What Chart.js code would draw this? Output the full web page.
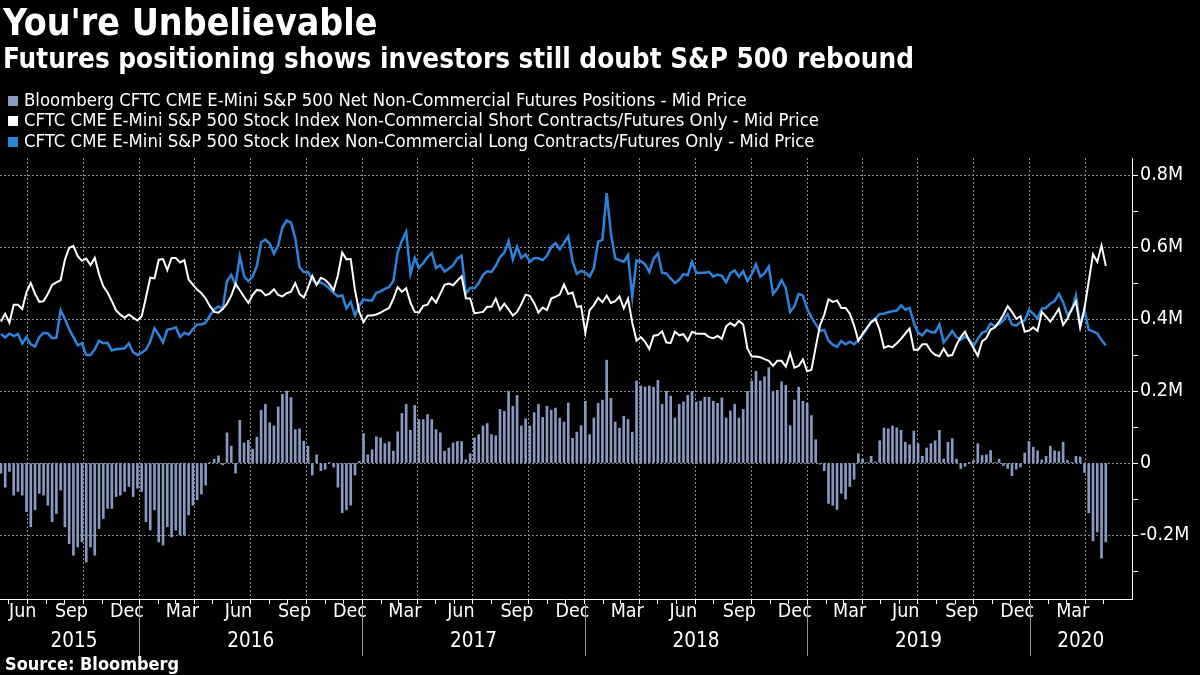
<!DOCTYPE html>
<html>
<head>
<meta charset="utf-8">
<script src="https://cdn.jsdelivr.net/npm/chart.js@4.4.1/dist/chart.umd.min.js"></script>
<style>
  html, body { margin: 0; padding: 0; background: #000; }
  body { width: 1200px; height: 675px; position: relative; overflow: hidden;
         font-family: "DejaVu Sans Condensed", "Liberation Sans Narrow", "DejaVu Sans", sans-serif; color: #fff; }
  #chart { position: absolute; left: 0; top: 0; }
  .title { position: absolute; left: 3px; top: 4px; font-size: 37.2px; line-height: 37px; font-weight: bold; }
  .subtitle { position: absolute; left: 3px; top: 45px; font-size: 27.6px; line-height: 27px; font-weight: bold; }
  .legend { position: absolute; left: 8px; top: 89.5px; font-size: 18.4px; line-height: 20.5px; }
  .legend div { white-space: nowrap; }
  .legend span.sw { display: inline-block; width: 10px; height: 10px; margin-right: 6px; vertical-align: 0px; }
  .source { position: absolute; left: 5px; top: 655px; font-size: 18px; line-height: 18px; font-weight: bold; }
</style>
</head>
<body>
<canvas id="chart" width="1200" height="675"></canvas>
<div class="title">You're Unbelievable</div>
<div class="subtitle">Futures positioning shows investors still doubt S&amp;P 500 rebound</div>
<div class="legend">
  <div><span class="sw" style="background:#8799c0"></span>Bloomberg CFTC CME E-Mini S&amp;P 500 Net Non-Commercial Futures Positions - Mid Price</div>
  <div><span class="sw" style="background:#ffffff"></span>CFTC CME E-Mini S&amp;P 500 Stock Index Non-Commercial Short Contracts/Futures Only - Mid Price</div>
  <div><span class="sw" style="background:#2b83db"></span>CFTC CME E-Mini S&amp;P 500 Stock Index Non-Commercial Long Contracts/Futures Only - Mid Price</div>
</div>
<div class="source">Source: Bloomberg</div>
<script>
// Semanas de reporte CFTC (martes), desde el 19 de mayo de 2015
const primeraSemana = "2015-05-19";

// Posiciones netas no comerciales (miles de contratos)
const netas = [
  -28, -67, -23, -89, -79, -89, -135, -177, -130, -84,
  -89, -117, -163, -140, -75, -177, -224, -256, -233, -219,
  -275, -233, -256, -182, -154, -126, -126, -93, -89, -79,
  -65, -93, -70, -79, -163, -186, -130, -219, -228, -177,
  -205, -186, -200, -200, -144, -117, -102, -86, -61, 2,
  11, 20, -5, 84, 47, -28, 119, 56, 63, 39,
  72, 147, 163, 112, 103, 156, 191, 200, 182, 93,
  95, 61, 47, -33, 23, -21, -17, 1, -11, -67,
  -138, -130, -117, -33, 5, 82, 23, 37, 73, 70,
  54, 59, 33, 87, 138, 163, 91, 160, 121, 121,
  135, 121, 93, 84, 33, 42, 56, 60, 60, 9,
  26, 70, 79, 103, 110, 79, 76, 149, 144, 200,
  158, 188, 103, 123, 103, 140, 163, 127, 158, 147,
  153, 125, 114, 167, 69, 86, 104, 172, 79, 125,
  166, 175, 286, 180, 114, 97, 130, 121, 86, 228,
  214, 211, 214, 211, 230, 163, 200, 186, 125, 163,
  170, 188, 199, 170, 172, 183, 183, 172, 166, 181,
  125, 145, 163, 125, 149, 199, 228, 255, 228, 240,
  265, 199, 202, 226, 216, 104, 175, 211, 172, 166,
  132, 65, -3, -21, -112, -117, -129, -84, -100, -65,
  -45, 26, 11, 2, 19, 3, 62, 97, 95, 103,
  98, 91, 58, 51, 89, 54, 19, 42, 54, 62,
  91, 11, 58, 68, 11, -15, -9, 2, 7, 54,
  21, 23, 35, 2, 11, -7, -15, -35, -17, -11,
  28, 60, 44, 34, 9, 19, 47, 34, 32, 58,
  7, 2, 19, 17, -26, -138, -216, -191, -264, -219
];

// Contratos cortos no comerciales (miles)
const cortos = [
  393, 415, 390, 440, 440, 428, 475, 500, 470, 448,
  450, 470, 495, 502, 508, 565, 598, 603, 575, 562,
  568, 550, 570, 525, 491, 474, 450, 424, 412, 404,
  413, 404, 396, 408, 460, 515, 513, 565, 567, 536,
  570, 570, 557, 564, 510, 496, 482, 472, 457, 436,
  420, 418, 428, 443, 465, 498, 480, 462, 445, 467,
  481, 479, 466, 471, 483, 467, 463, 472, 476, 500,
  470, 460, 488, 520, 495, 515, 509, 497, 480, 522,
  585, 566, 567, 480, 420, 392, 410, 410, 413, 418,
  425, 431, 457, 489, 476, 486, 446, 420, 418, 437,
  440, 460, 446, 471, 495, 499, 494, 507, 519, 458,
  457, 416, 418, 420, 434, 434, 457, 426, 443, 427,
  410, 420, 442, 468, 464, 445, 418, 432, 425, 457,
  462, 468, 496, 470, 474, 434, 436, 362, 425, 439,
  459, 447, 465, 445, 450, 463, 430, 457, 390, 340,
  350, 337, 317, 354, 356, 366, 335, 334, 365, 355,
  358, 340, 365, 360, 359, 359, 350, 347, 353, 345,
  380, 389, 381, 395, 385, 318, 296, 296, 294, 289,
  284, 270, 284, 284, 268, 305, 265, 270, 288, 255,
  259, 322, 382, 412, 455, 448, 452, 431, 431, 415,
  382, 340, 359, 376, 391, 400, 370, 320, 325, 322,
  333, 345, 360, 374, 315, 315, 330, 330, 311, 301,
  297, 318, 298, 300, 328, 350, 365, 340, 320, 298,
  338, 347, 371, 377, 393, 412, 436, 420, 401, 408,
  365, 368, 377, 367, 420, 407, 393, 410, 429, 384,
  401, 427, 449, 377, 430, 505, 580, 559, 605, 548
];

// Contratos largos no comerciales (miles)
const largos = [
  359, 349, 360, 353, 359, 332, 350, 330, 324, 350,
  362, 360, 347, 348, 425, 400, 372, 350, 327, 333,
  300, 300, 316, 340, 333, 334, 313, 317, 317, 319,
  333, 308, 300, 307, 315, 338, 375, 356, 335, 370,
  373, 377, 350, 362, 357, 372, 385, 385, 390, 410,
  426, 435, 430, 505, 523, 495, 575, 520, 505, 518,
  548, 613, 621, 610, 582, 605, 655, 674, 668, 625,
  545, 530, 531, 510, 498, 502, 495, 485, 473, 463,
  466, 430, 448, 410, 437, 455, 452, 452, 473, 477,
  484, 489, 506, 585, 618, 643, 525, 570, 542, 556,
  572, 584, 542, 550, 532, 540, 550, 568, 576, 470,
  487, 485, 500, 523, 533, 531, 548, 572, 585, 617,
  566, 601, 570, 580, 559, 569, 569, 564, 576, 600,
  611, 594, 611, 630, 560, 526, 534, 529, 518, 542,
  615, 620, 750, 638, 569, 564, 559, 578, 461, 563,
  561, 552, 531, 568, 582, 529, 527, 513, 500, 510,
  525, 522, 560, 528, 529, 529, 531, 518, 524, 520,
  502, 528, 535, 518, 533, 505, 525, 552, 518, 527,
  546, 470, 485, 508, 485, 420, 435, 470, 465, 428,
  405, 386, 367, 370, 340, 329, 323, 339, 330, 337,
  330, 343, 357, 372, 394, 402, 414, 415, 419, 422,
  424, 438, 426, 431, 390, 362, 355, 370, 364, 363,
  385, 335, 350, 367, 350, 343, 352, 344, 325, 345,
  362, 367, 388, 380, 386, 397, 414, 385, 382, 392,
  396, 425, 415, 402, 429, 431, 443, 450, 470, 447,
  412, 424, 466, 382, 425, 370, 366, 360, 342, 327
];

// Etiquetas del eje
const mesesEtiqueta = ["Mar", "Jun", "Sep", "Dec"];
const anios = [2015, 2016, 2017, 2018, 2019, 2020];
const ticksY = [-300, -200, -100, 0, 100, 200, 300, 400, 500, 600, 700, 800];

const COLOR_BARRA = "#8799c0";
const COLOR_LARGO = "#2b83db";
const COLOR_GRILLA = "#8c8c8c";
const FUENTE = '"DejaVu Sans Condensed", "Liberation Sans Narrow", "DejaVu Sans", sans-serif';

// Días desde el 1 de enero de 2015
const dia = (a, m, d) => (Date.UTC(a, m, d) - Date.UTC(2015, 0, 1)) / 86400000;
const [pa, pm, pd] = primeraSemana.split("-").map(Number);
const dia0 = dia(pa, pm - 1, pd);
const puntos = (serie) => serie.map((v, i) => ({ x: dia0 + 7 * i, y: v }));

const X_MIN = 136.5;
const X_MAX = 1994;

// Inicio de cada mes (marcas) y trimestres (grilla)
const iniciosMes = [];
for (let a = 2015; a <= 2020; a++) {
  for (let m = 0; m < 12; m++) {
    const d = dia(a, m, 1);
    if (d >= dia(2015, 5, 1) && d <= dia(2020, 4, 1)) iniciosMes.push(d);
  }
}
const trimestres = new Set();
for (let a = 2015; a <= 2020; a++) {
  [0, 3, 6, 9].forEach((m) => trimestres.add(dia(a, m, 1)));
}

// Etiquetas de mes y año debajo del eje
const etiquetasEje = {
  id: "etiquetasEje",
  afterDraw(chart) {
    const { ctx, chartArea } = chart;
    const x = chart.scales.x;
    ctx.save();
    ctx.fillStyle = "#fff";
    ctx.textBaseline = "middle";
    ctx.textAlign = "center";
    ctx.font = "19.5px " + FUENTE;
    anios.forEach((a) => {
      [2, 5, 8, 11].forEach((m, k) => {
        const d = dia(a, m, 15);
        if (d < dia(2015, 5, 1) || d > dia(2020, 3, 30)) return;
        let px = x.getPixelForValue(d) - 2;
        const w = ctx.measureText(mesesEtiqueta[k]).width;
        if (px - w / 2 < 9) px = 9 + w / 2;
        ctx.fillText(mesesEtiqueta[k], px, 612);
      });
    });
    ctx.font = "20.5px " + FUENTE;
    ctx.strokeStyle = "#9a9a9a";
    ctx.lineWidth = 1;
    anios.forEach((a) => {
      const ini = Math.max(dia(a, 0, 1), dia(2015, 5, 1));
      const fin = Math.min(dia(a + 1, 0, 1), X_MAX);
      const px = (x.getPixelForValue(ini) + x.getPixelForValue(fin)) / 2;
      ctx.fillText(String(a), px, 642);
      if (a > 2015) {
        const sx = Math.round(x.getPixelForValue(dia(a, 0, 1))) + 0.5;
        ctx.beginPath();
        ctx.moveTo(sx, chartArea.bottom + 5);
        ctx.lineTo(sx, 656);
        ctx.stroke();
      }
    });
    ctx.restore();
  },
};

const ctx = document.getElementById("chart").getContext("2d");

new Chart(ctx, {
  data: {
    datasets: [
      {
        type: "line",
        label: "CFTC CME E-Mini S&P 500 Stock Index Non-Commercial Short Contracts/Futures Only - Mid Price",
        data: puntos(cortos),
        borderColor: "#ffffff",
        borderWidth: 2,
        pointRadius: 0,
        tension: 0,
        order: 1,
      },
      {
        type: "line",
        label: "CFTC CME E-Mini S&P 500 Stock Index Non-Commercial Long Contracts/Futures Only - Mid Price",
        data: puntos(largos),
        borderColor: COLOR_LARGO,
        borderWidth: 2.5,
        pointRadius: 0,
        tension: 0,
        order: 2,
      },
      {
        type: "bar",
        label: "Bloomberg CFTC CME E-Mini S&P 500 Net Non-Commercial Futures Positions - Mid Price",
        data: puntos(netas),
        backgroundColor: COLOR_BARRA,
        barThickness: 2,
        order: 3,
      },
    ],
  },
  options: {
    responsive: false,
    animation: false,
    layout: { padding: { top: 158, left: 0, right: 0, bottom: 0 } },
    plugins: { legend: { display: false }, tooltip: { enabled: false } },
    scales: {
      x: {
        type: "linear",
        min: X_MIN,
        max: X_MAX,
        offset: false,
        afterBuildTicks: (s) => { s.ticks = iniciosMes.map((v) => ({ value: v })); },
        afterFit: (s) => { s.height = 76; },
        ticks: { display: false },
        grid: {
          offset: false,
          color: (c) => (c.tick && trimestres.has(c.tick.value) ? COLOR_GRILLA : "rgba(0,0,0,0)"),
          tickColor: "#ffffff",
          tickLength: 5,
        },
        border: { display: true, color: "#ffffff", width: 1, dash: [2, 2] },
      },
      y: {
        position: "right",
        min: -377.6,
        max: 847.6,
        afterBuildTicks: (s) => { s.ticks = ticksY.map((v) => ({ value: v })); },
        afterFit: (s) => { s.width = 68; },
        ticks: {
          autoSkip: false,
          color: "#ffffff",
          padding: 2,
          font: { family: FUENTE, size: 19.5 },
          callback: (v) => (v % 200 === 0 ? (v === 0 ? "0" : v / 1000 + "M") : ""),
        },
        grid: {
          color: (c) => (c.tick && c.tick.value % 200 === 0 ? COLOR_GRILLA : "rgba(0,0,0,0)"),
          tickColor: "#ffffff",
          tickLength: 6,
        },
        border: { display: true, color: "#ffffff", width: 1, dash: [2, 2] },
      },
    },
  },
  plugins: [etiquetasEje],
});
</script>
</body>
</html>
